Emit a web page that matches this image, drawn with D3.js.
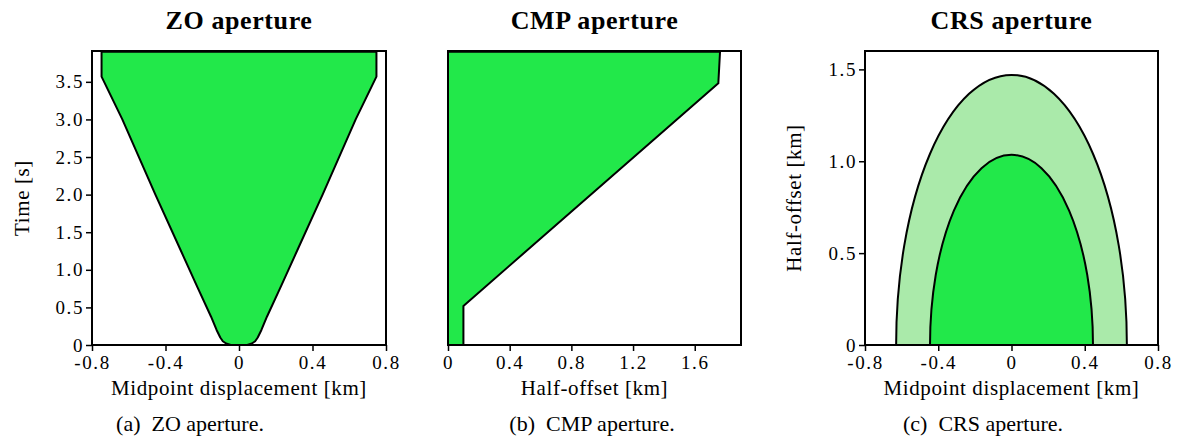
<!DOCTYPE html>
<html>
<head>
<meta charset="utf-8">
<script src="https://cdn.jsdelivr.net/npm/d3@7"></script>
<style>
  body { margin: 0; background: #fff; }
  svg { display: block; }
</style>
</head>
<body>
<svg id="fig" width="1179" height="446" font-family="'Liberation Serif', 'Times New Roman', 'DejaVu Serif', serif"></svg>
<script>
// ZO aperture: boundary half-widths (km) at given two-way times (s)
const zoTime  = [3.9, 3.57, 3.0, 2.0, 1.263, 0.8, 0.376, 0.2, 0.1, 0.05, 0.02, 0];
const zoLeft  = [-0.748, -0.748, -0.635, -0.455, -0.318, -0.232, -0.152, -0.122, -0.102, -0.088, -0.07, -0.045];
const zoRight = [0.748, 0.748, 0.635, 0.455, 0.318, 0.232, 0.152, 0.122, 0.102, 0.088, 0.07, 0.045];

// CMP aperture: polygon vertices (half-offset km, time s)
const cmpOffset = [0, 0.1, 0.1, 1.753, 1.764, 0];
const cmpTime   = [0, 0, 0.52, 3.48, 3.9, 3.9];

// CRS aperture: outer and inner ellipses (midpoint half-width, half-offset height), km
const crsMidHalf    = [0.63, 0.445];
const crsOffsetHalf = [1.47, 1.035];
const crsColors     = ["#aaeaaa", "#22e84a"];

// axis ticks
const midTicks    = [-0.8, -0.4, 0, 0.4, 0.8];
const offsetTicks = [0, 0.4, 0.8, 1.2, 1.6];
const timeTicks   = [0, 0.5, 1.0, 1.5, 2.0, 2.5, 3.0, 3.5];
const crsTicks    = [0, 0.5, 1.0, 1.5];

const titles   = ["ZO aperture", "CMP aperture", "CRS aperture"];
const captions = ["(a)  ZO aperture.", "(b)  CMP aperture.", "(c)  CRS aperture."];

const GREEN = "#22e84a";
const SERIF = "'Liberation Serif', 'Times New Roman', 'DejaVu Serif', serif";
const svg = d3.select("#fig");

const panels = [
  { x0: 92,  x1: 386,  y0: 51, y1: 345, cap: 190 },
  { x0: 448, x1: 741,  y0: 51, y1: 345, cap: 592 },
  { x0: 865, x1: 1158, y0: 51, y1: 345, cap: 983 }
];

const defs = svg.append("defs");
function clip(p, i) {
  defs.append("clipPath").attr("id", "clip" + i)
    .append("rect").attr("x", p.x0).attr("y", p.y0)
    .attr("width", p.x1 - p.x0).attr("height", p.y1 - p.y0);
}

function styleTicks(sel) {
  sel.select(".domain").remove();
  sel.attr("font-family", null);
  sel.selectAll("line").attr("stroke", "#000").attr("stroke-width", 1.5);
  sel.selectAll("text")
    .style("font-family", SERIF)
    .style("font-size", "19px")
    .style("letter-spacing", "1.6px")
    .attr("fill", "#000");
}

function axes(g, p, x, y, xt, yt, xfmt, yfmt) {
  const ax = g.append("g").attr("transform", `translate(0,${p.y1})`)
    .call(d3.axisBottom(x).tickValues(xt).tickSize(6).tickSizeOuter(0).tickPadding(5).tickFormat(xfmt));
  styleTicks(ax);
  if (yt) {
    const ay = g.append("g").attr("transform", `translate(${p.x0},0)`)
      .call(d3.axisLeft(y).tickValues(yt).tickSize(6).tickSizeOuter(0).tickPadding(2).tickFormat(yfmt));
    styleTicks(ay);
  }
  g.append("rect").attr("x", p.x0).attr("y", p.y0)
    .attr("width", p.x1 - p.x0).attr("height", p.y1 - p.y0)
    .attr("fill", "none").attr("stroke", "#000").attr("stroke-width", 2);
}

function label(g, x, y, txt, rotate) {
  const t = g.append("text")
    .attr("text-anchor", "middle")
    .style("font-family", SERIF).style("font-size", "21px").style("letter-spacing", "0.6px")
    .text(txt);
  if (rotate) t.attr("transform", `translate(${x},${y}) rotate(-90)`);
  else t.attr("x", x).attr("y", y);
}

const xf = d => d === 0 ? "0" : String(d);
const yf = d => d === 0 ? "0" : d.toFixed(1);
const outline = sel => sel.attr("stroke", "#000").attr("stroke-width", 2).attr("stroke-linejoin", "round");

// ---- Panel (a): ZO aperture
{
  const p = panels[0], i = 0;
  clip(p, i);
  const g = svg.append("g");
  const x = d3.scaleLinear().domain([-0.8, 0.8]).range([p.x0, p.x1]);
  const y = d3.scaleLinear().domain([0, 3.91]).range([p.y1, p.y0]);
  const pts = zoTime.map((t, k) => [zoLeft[k], t])
    .concat(zoTime.map((t, k) => [zoRight[k], t]).reverse());
  g.append("path")
    .attr("clip-path", `url(#clip${i})`)
    .attr("d", d3.line().x(d => x(d[0])).y(d => y(d[1])).curve(d3.curveLinearClosed)(pts))
    .attr("fill", GREEN).call(outline);
  axes(g, p, x, y, midTicks, timeTicks, xf, yf);
  label(g, 29, (p.y0 + p.y1) / 2, "Time [s]", true);
  label(g, (p.x0 + p.x1) / 2, 395, "Midpoint displacement [km]");
}

// ---- Panel (b): CMP aperture
{
  const p = panels[1], i = 1;
  clip(p, i);
  const g = svg.append("g");
  const x = d3.scaleLinear().domain([0, 1.9]).range([p.x0, p.x1]);
  const y = d3.scaleLinear().domain([0, 3.91]).range([p.y1, p.y0]);
  const pts = cmpOffset.map((h, k) => [h, cmpTime[k]]);
  g.append("path")
    .attr("clip-path", `url(#clip${i})`)
    .attr("d", d3.line().x(d => x(d[0])).y(d => y(d[1])).curve(d3.curveLinearClosed)(pts))
    .attr("fill", GREEN).call(outline);
  axes(g, p, x, y, offsetTicks, null, xf, yf);
  label(g, (p.x0 + p.x1) / 2, 395, "Half-offset [km]");
}

// ---- Panel (c): CRS aperture
{
  const p = panels[2], i = 2;
  clip(p, i);
  const g = svg.append("g");
  const x = d3.scaleLinear().domain([-0.8, 0.8]).range([p.x0, p.x1]);
  const y = d3.scaleLinear().domain([0, 1.6]).range([p.y1, p.y0]);
  g.append("g").attr("clip-path", `url(#clip${i})`)
    .selectAll("ellipse").data(crsMidHalf).join("ellipse")
    .attr("cx", x(0)).attr("cy", y(0))
    .attr("rx", d => x(d) - x(0))
    .attr("ry", (d, k) => y(0) - y(crsOffsetHalf[k]))
    .attr("fill", (d, k) => crsColors[k])
    .call(outline);
  axes(g, p, x, y, midTicks, crsTicks, xf, yf);
  label(g, 801, (p.y0 + p.y1) / 2, "Half-offset [km]", true);
  label(g, (p.x0 + p.x1) / 2, 395, "Midpoint displacement [km]");
}

// titles and captions
svg.selectAll("text.title").data(panels).join("text").attr("class", "title")
  .attr("x", d => (d.x0 + d.x1) / 2).attr("y", 29)
  .attr("text-anchor", "middle")
  .style("font-family", SERIF).style("font-size", "26px").style("font-weight", "bold")
  .style("letter-spacing", "0.6px")
  .text((d, k) => titles[k]);
svg.selectAll("text.caption").data(panels).join("text").attr("class", "caption")
  .attr("x", d => d.cap).attr("y", 431)
  .attr("text-anchor", "middle")
  .style("font-family", SERIF).style("font-size", "22px").style("white-space", "pre")
  .text((d, k) => captions[k]);
</script>
</body>
</html>
